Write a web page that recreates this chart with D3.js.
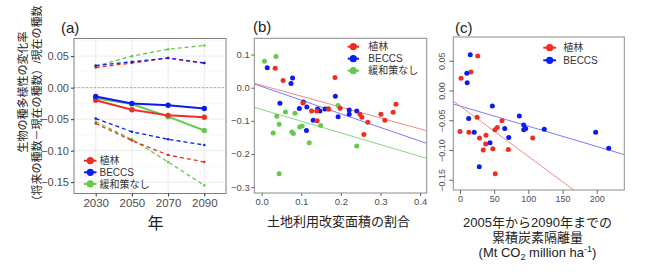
<!DOCTYPE html>
<html><head><meta charset="utf-8">
<script src="https://cdn.jsdelivr.net/npm/d3@7"></script>
<style>
body{margin:0;background:#fff;}
svg{display:block;font-family:"Liberation Sans","Noto Sans CJK JP",sans-serif;}
</style></head>
<body><svg id="c" width="650" height="275"></svg>
<script>
// ---------- data ----------
const years = ["2030","2050","2070","2090"];
const seriesNames = ["植林","BECCS","緩和策なし"];
const colors = {"植林":"#EE2E24","BECCS":"#0A1CF2","緩和策なし":"#66C84E"};
const fitColors = {"植林":"#F08A84","BECCS":"#7C7CF6","緩和策なし":"#8CD47E"};

// panel (a): mean and upper/lower ranges
const meanA = {
  "植林":[-0.020,-0.035,-0.044,-0.047],
  "BECCS":[-0.014,-0.025,-0.028,-0.033],
  "緩和策なし":[-0.017,-0.026,-0.046,-0.068]
};
const upperA = {
  "植林":[0.032,0.039,0.047,0.039],
  "BECCS":[0.035,0.041,0.047,0.039],
  "緩和策なし":[0.034,0.050,0.061,0.067]
};
const lowerA = {
  "植林":[-0.057,-0.084,-0.107,-0.118],
  "BECCS":[-0.049,-0.070,-0.082,-0.091],
  "緩和策なし":[-0.054,-0.082,-0.118,-0.155]
};
const yTicksA = [0.05,0.00,-0.05,-0.10,-0.15];

// panel (b): land-use change fraction vs change rate
const bX = {
  "植林":[0.034,0.054,0.185,0.104,0.126,0.139,0.140,0.169,0.198,0.248,0.253,0.268,0.258,0.301,0.311,0.332,0.339],
  "BECCS":[0.014,0.078,0.074,0.046,0.095,0.105,0.114,0.130,0.113,0.141,0.147,0.160,0.186,0.193,0.221,0.221,0.240],
  "緩和策なし":[0.007,0.036,0.038,0.029,0.044,0.060,0.084,0.076,0.080,0.096,0.102,0.120,0.149,0.044,0.193,0.168,0.240]
};
const bY = {
  "植林":[0.059,0.022,0.031,-0.046,-0.070,-0.070,-0.100,-0.065,-0.062,-0.080,-0.089,-0.104,-0.141,-0.080,-0.098,-0.074,-0.050],
  "BECCS":[0.060,0.029,0.013,-0.047,-0.063,-0.043,-0.058,-0.098,-0.129,-0.064,-0.070,-0.064,-0.026,-0.088,-0.067,-0.080,-0.070],
  "緩和策なし":[0.080,0.094,-0.086,-0.137,-0.110,-0.073,-0.077,-0.134,-0.138,-0.119,-0.116,-0.166,-0.114,-0.260,-0.054,-0.062,-0.176]
};
const bFit = { // intercept, slope
  "植林":[0.0072,-0.329],
  "BECCS":[0.0035,-0.412],
  "緩和策なし":[-0.0658,-0.354]
};
const xTicksB = [0.0,0.1,0.2,0.3,0.4];
const yTicksB = [0.1,0.0,-0.1,-0.2,-0.3];

// panel (c): cumulative carbon sequestration vs change rate
const cX = {
  "植林":[1.5,16,26,0,13,25,28.5,38,37.6,34,48,51,54.6,61.4,70.7,51.6,106.4],
  "BECCS":[15,10,10.5,47.3,12.7,20.8,43.9,28.2,65.4,71.3,86.8,93.2,93.2,96.1,123.3,198.5,217.6]
};
const cY = {
  "植林":[0.0205,0.031,0.058,-0.069,-0.070,-0.045,-0.080,-0.075,-0.090,-0.100,-0.098,-0.066,-0.062,-0.051,-0.099,-0.140,-0.080],
  "BECCS":[0.060,0.029,0.013,-0.026,-0.047,-0.070,-0.088,-0.128,-0.064,-0.079,-0.043,-0.058,-0.066,-0.064,-0.065,-0.070,-0.097]
};
const cFit = {
  "植林":[-0.0259,-0.000849],
  "BECCS":[-0.026,-0.00034]
};
const xTicksC = [0,50,100,150,200];
const yTicksC = [0.05,0.00,-0.05,-0.10,-0.15];

// ---------- drawing ----------
const svg = d3.select("#c");
const tickCol = "#4D4D4D";

// ===== Panel (a) =====
const A = {l:74,r:226,t:38.5,b:193.5};
const xA = d3.scalePoint().domain(years).range([A.l,A.r]).padding(0.6);
const yA = d3.scaleLinear().domain([-0.168,0.078]).range([A.b,A.t]);
const gA = svg.append("g");
const minorY = [0.075,0.025,-0.025,-0.075,-0.125];
gA.selectAll(".gmy").data(minorY).join("line")
  .attr("x1",A.l).attr("x2",A.r).attr("y1",d=>yA(d)).attr("y2",d=>yA(d))
  .attr("stroke","#F2F2F2").attr("stroke-width",0.6);
gA.selectAll(".gy").data(yTicksA).join("line")
  .attr("x1",A.l).attr("x2",A.r).attr("y1",d=>yA(d)).attr("y2",d=>yA(d))
  .attr("stroke","#EBEBEB").attr("stroke-width",1);
gA.selectAll(".gx").data(years).join("line")
  .attr("x1",d=>xA(d)).attr("x2",d=>xA(d)).attr("y1",A.t).attr("y2",A.b)
  .attr("stroke","#EBEBEB").attr("stroke-width",1);
gA.append("line").attr("x1",A.l).attr("x2",A.r).attr("y1",yA(0)).attr("y2",yA(0))
  .attr("stroke","#9A9A9A").attr("stroke-width",0.8).attr("stroke-dasharray","2,2");
const lineA = d3.line().x((d,i)=>xA(years[i])).y(d=>yA(d));
const order = ["緩和策なし","植林","BECCS"];
order.forEach(s=>{
  [upperA[s],lowerA[s]].forEach(arr=>{
    gA.append("path").attr("d",lineA(arr)).attr("fill","none")
      .attr("stroke",colors[s]).attr("stroke-width",1.3).attr("stroke-dasharray","4,3");
    gA.selectAll(null).data(arr).join("circle")
      .attr("cx",(d,i)=>xA(years[i])).attr("cy",d=>yA(d)).attr("r",1.3).attr("fill",colors[s]);
  });
});
order.forEach(s=>{
  gA.append("path").attr("d",lineA(meanA[s])).attr("fill","none")
    .attr("stroke",colors[s]).attr("stroke-width",2);
  gA.selectAll(null).data(meanA[s]).join("circle")
    .attr("cx",(d,i)=>xA(years[i])).attr("cy",d=>yA(d)).attr("r",2.7).attr("fill",colors[s]);
});
gA.append("rect").attr("x",A.l).attr("y",A.t).attr("width",A.r-A.l).attr("height",A.b-A.t)
  .attr("fill","none").attr("stroke","#7F7F7F").attr("stroke-width",1);
const axAy = svg.append("g").attr("transform",`translate(${A.l},0)`)
  .call(d3.axisLeft(yA).tickValues(yTicksA).tickFormat(d3.format(".2f")).tickSize(3).tickPadding(2));
const axAx = svg.append("g").attr("transform",`translate(0,${A.b})`)
  .call(d3.axisBottom(xA).tickSize(3).tickPadding(2));
[axAy,axAx].forEach(g=>{
  g.select(".domain").remove();
  g.selectAll(".tick line").attr("stroke","#333");
  g.selectAll("text").attr("fill",tickCol).style("font-size","11px");
});
axAx.selectAll("text").style("font-size","11.5px");
seriesNames.forEach((s,i)=>{
  const yy = 160.7 + i*11.6;
  svg.append("line").attr("x1",84).attr("x2",96.5).attr("y1",yy).attr("y2",yy)
    .attr("stroke",colors[s]).attr("stroke-width",2);
  svg.append("circle").attr("cx",90.3).attr("cy",yy).attr("r",3.6).attr("fill",colors[s]);
  svg.append("text").attr("x",99.5).attr("y",yy+3.6).text(s)
    .attr("fill","#333").style("font-size","10px");
});
svg.append("text").attr("x",61).attr("y",33).text("(a)").attr("fill","#222").style("font-size","15px");
svg.append("text").attr("x",155.5).attr("y",229).attr("text-anchor","middle").text("年")
  .attr("fill","#222").style("font-size","16px");
const yt = svg.append("text").attr("transform","rotate(-90)")
  .attr("text-anchor","middle").attr("fill","#222").style("font-size","11px");
yt.append("tspan").attr("x",-92).attr("y",27).text("生物の種多様性の変化率");
yt.append("tspan").attr("x",-106).attr("y",41).text("（将来の種数－現在の種数）/現在の種数");

// ===== Panel (b) =====
const B = {l:254.3,r:426.7,t:38.3,b:193};
const xB = d3.scaleLinear().domain([-0.0187,0.4167]).range([B.l,B.r]);
const yB = d3.scaleLinear().domain([-0.318,0.1492]).range([B.b,B.t]);
svg.append("clipPath").attr("id","clipB").append("rect")
  .attr("x",B.l).attr("y",B.t).attr("width",B.r-B.l).attr("height",B.b-B.t);
const gB = svg.append("g");
const gBc = gB.append("g").attr("clip-path","url(#clipB)");
["緩和策なし","BECCS","植林"].forEach(s=>{
  const [a,b] = bFit[s];
  const xs = xB.domain();
  gBc.append("line").attr("x1",xB(xs[0])).attr("x2",xB(xs[1]))
    .attr("y1",yB(a+b*xs[0])).attr("y2",yB(a+b*xs[1]))
    .attr("stroke",fitColors[s]).attr("stroke-width",1);
});
["緩和策なし","BECCS","植林"].forEach(s=>{
  gBc.selectAll(null).data(bX[s]).join("circle")
    .attr("cx",d=>xB(d)).attr("cy",(d,i)=>yB(bY[s][i])).attr("r",2.5).attr("fill",colors[s]);
});
gB.append("rect").attr("x",B.l).attr("y",B.t).attr("width",B.r-B.l).attr("height",B.b-B.t)
  .attr("fill","none").attr("stroke","#8C8C8C").attr("stroke-width",1);
const axBy = svg.append("g").attr("transform",`translate(${B.l},0)`)
  .call(d3.axisLeft(yB).tickValues(yTicksB).tickFormat(d3.format(".1f")).tickSize(3).tickPadding(1.5));
const axBx = svg.append("g").attr("transform",`translate(0,${B.b})`)
  .call(d3.axisBottom(xB).tickValues(xTicksB).tickFormat(d3.format(".1f")).tickSize(3).tickPadding(2));
[axBy,axBx].forEach(g=>{
  g.select(".domain").remove();
  g.selectAll(".tick line").attr("stroke","#666");
  g.selectAll("text").attr("fill",tickCol).style("font-size","9.5px");
});
seriesNames.forEach((s,i)=>{
  const yy = 46.7 + i*12;
  svg.append("line").attr("x1",347.7).attr("x2",359).attr("y1",yy).attr("y2",yy)
    .attr("stroke",colors[s]).attr("stroke-width",2);
  svg.append("circle").attr("cx",353.3).attr("cy",yy).attr("r",3.6).attr("fill",colors[s]);
  svg.append("text").attr("x",368.3).attr("y",yy+3.6).text(s)
    .attr("fill","#333").style("font-size","10px");
});
svg.append("text").attr("x",253).attr("y",32).text("(b)").attr("fill","#222").style("font-size","15px");
svg.append("text").attr("x",338.5).attr("y",226).attr("text-anchor","middle").text("土地利用改変面積の割合")
  .attr("fill","#222").style("font-size","13px");

// ===== Panel (c) =====
const C = {l:453.3,r:624.3,t:37,b:190};
const xC = d3.scaleLinear().domain([-9.8,240.4]).range([C.l,C.r]);
const yC = d3.scaleLinear().domain([-0.1672,0.0899]).range([C.b,C.t]);
svg.append("clipPath").attr("id","clipC").append("rect")
  .attr("x",C.l).attr("y",C.t).attr("width",C.r-C.l).attr("height",C.b-C.t);
const gC = svg.append("g");
const gCc = gC.append("g").attr("clip-path","url(#clipC)");
["BECCS","植林"].forEach(s=>{
  const [a,b] = cFit[s];
  const xs = xC.domain();
  gCc.append("line").attr("x1",xC(xs[0])).attr("x2",xC(xs[1]))
    .attr("y1",yC(a+b*xs[0])).attr("y2",yC(a+b*xs[1]))
    .attr("stroke",fitColors[s]).attr("stroke-width",1);
});
["植林","BECCS"].forEach(s=>{
  gCc.selectAll(null).data(cX[s]).join("circle")
    .attr("cx",d=>xC(d)).attr("cy",(d,i)=>yC(cY[s][i])).attr("r",2.5).attr("fill",colors[s]);
});
gC.append("rect").attr("x",C.l).attr("y",C.t).attr("width",C.r-C.l).attr("height",C.b-C.t)
  .attr("fill","none").attr("stroke","#8C8C8C").attr("stroke-width",1);
const axCy = svg.append("g").attr("transform",`translate(${C.l},0)`)
  .call(d3.axisLeft(yC).tickValues(yTicksC).tickFormat(d3.format(".2f")).tickSize(4).tickPadding(2));
axCy.selectAll("text").attr("transform","rotate(-90)").attr("text-anchor","middle")
  .attr("x",0).attr("dy",0).attr("y",-8);
const axCx = svg.append("g").attr("transform",`translate(0,${C.b})`)
  .call(d3.axisBottom(xC).tickValues(xTicksC).tickSize(4).tickPadding(2));
[axCy,axCx].forEach(g=>{
  g.select(".domain").remove();
  g.selectAll(".tick line").attr("stroke","#666");
  g.selectAll("text").attr("fill",tickCol).style("font-size","9px");
});
["植林","BECCS"].forEach((s,i)=>{
  const yy = 47.7 + i*12.6;
  svg.append("line").attr("x1",543.3).attr("x2",556).attr("y1",yy).attr("y2",yy)
    .attr("stroke",colors[s]).attr("stroke-width",2);
  svg.append("circle").attr("cx",549.7).attr("cy",yy).attr("r",3.6).attr("fill",colors[s]);
  svg.append("text").attr("x",563.3).attr("y",yy+3.6).text(s)
    .attr("fill","#333").style("font-size","10px");
});
svg.append("text").attr("x",455).attr("y",33).text("(c)").attr("fill","#222").style("font-size","15px");
const xc = svg.append("text").attr("text-anchor","middle").attr("fill","#222").style("font-size","13px");
xc.append("tspan").attr("x",537.5).attr("y",227).text("2005年から2090年までの");
xc.append("tspan").attr("x",537.5).attr("y",242).text("累積炭素隔離量");
const l3 = xc.append("tspan").attr("x",537.5).attr("y",257);
l3.append("tspan").text("(Mt CO");
l3.append("tspan").attr("dy",3).style("font-size","9px").text("2");
l3.append("tspan").attr("dy",-3).text(" million ha");
l3.append("tspan").attr("dy",-5).style("font-size","9px").text("-1");
l3.append("tspan").attr("dy",5).text(")");
</script></body></html>
